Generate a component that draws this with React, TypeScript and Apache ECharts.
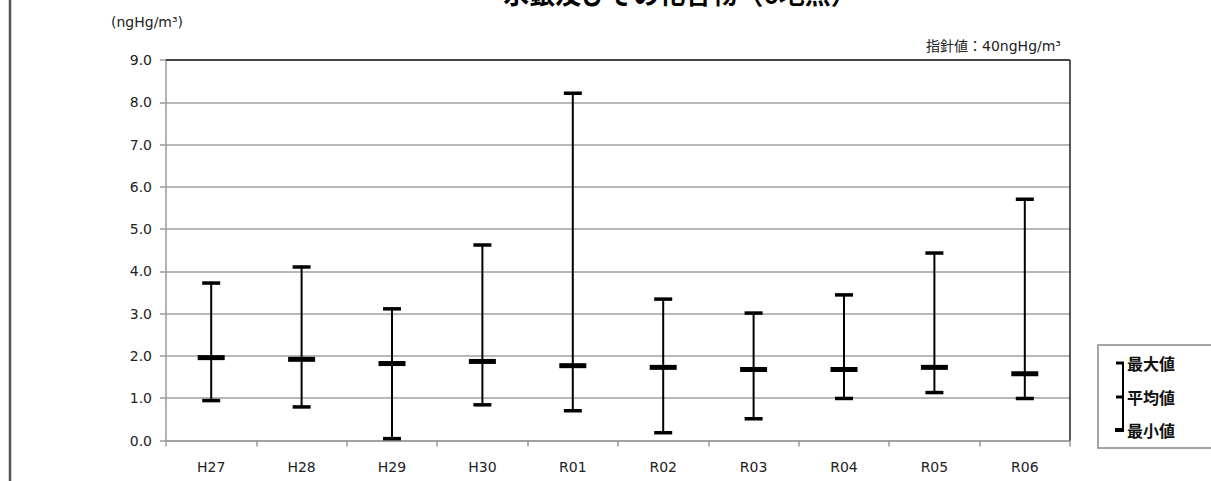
import React, { useEffect, useRef } from "react";
import * as echarts from "echarts";

const categories = ["H27", "H28", "H29", "H30", "R01", "R02", "R03", "R04", "R05", "R06"];
const maxValues = [3.73, 4.11, 3.12, 4.63, 8.22, 3.35, 3.02, 3.45, 4.44, 5.71];
const avgValues = [1.96, 1.92, 1.82, 1.87, 1.77, 1.73, 1.68, 1.68, 1.73, 1.58];
const minValues = [0.95, 0.8, 0.05, 0.85, 0.71, 0.19, 0.52, 1.0, 1.14, 1.0];
const titleText = "水銀及びその化合物（6地点）";
const unitText = "(ngHg/m³)";
const guideText = "指針値：40ngHg/m³";
const legendLabels = ["最大値", "平均値", "最小値"];

const FONT = "'DejaVu Sans', 'Noto Sans CJK JP', sans-serif";
const CJK = "'Noto Sans CJK JP', sans-serif";

export default function App() {
  const ref = useRef<HTMLDivElement>(null);
  useEffect(() => {
    if (!ref.current) return;
    const chart = echarts.init(ref.current, null, { renderer: "svg" });
    const data = categories.map((_, i) => [i, minValues[i], avgValues[i], maxValues[i]]);
    const gridLeft = 166;
    const gridRight = 141;
    const gridTop = 60;
    const gridBottom = 40.5;
    const W = 1211;
    const H = 481;
    chart.setOption({
      animation: false,
      backgroundColor: "#ffffff",
      textStyle: { fontFamily: FONT },
      grid: { left: gridLeft, right: gridRight, top: gridTop, bottom: gridBottom },
      xAxis: {
        type: "category",
        data: categories,
        boundaryGap: true,
        axisLine: { lineStyle: { color: "#9a9a9a", width: 1.5 } },
        axisTick: { show: true, length: 6, lineStyle: { color: "#9a9a9a", width: 1.5 } },
        axisLabel: { color: "#222", fontSize: 14, margin: 19, fontFamily: FONT },
        splitLine: { show: false },
      },
      yAxis: {
        type: "value",
        min: 0,
        max: 9,
        interval: 1,
        axisLine: { show: true, lineStyle: { color: "#9a9a9a", width: 1.5 } },
        axisTick: { show: true, length: 6, lineStyle: { color: "#9a9a9a", width: 1.5 } },
        axisLabel: {
          color: "#222",
          fontSize: 14,
          margin: 14,
          fontFamily: FONT,
          formatter: (v: number) => v.toFixed(1),
        },
        splitLine: { show: true, lineStyle: { color: "#a0a0a0", width: 1.5 } },
      },
      series: [
        {
          type: "custom",
          data,
          encode: { x: 0, y: [1, 2, 3] },
          renderItem: (params: any, api: any) => {
            const x = api.value(0);
            const pMin = api.coord([x, api.value(1)]);
            const pAvg = api.coord([x, api.value(2)]);
            const pMax = api.coord([x, api.value(3)]);
            const cx = pMin[0];
            const capW = 18;
            const avgW = 27;
            return {
              type: "group",
              children: [
                {
                  type: "line",
                  shape: { x1: cx, y1: pMax[1], x2: cx, y2: pMin[1] },
                  style: { stroke: "#000", lineWidth: 2 },
                },
                {
                  type: "rect",
                  shape: { x: cx - capW / 2, y: pMax[1] - 1.5, width: capW, height: 3.5 },
                  style: { fill: "#000" },
                },
                {
                  type: "rect",
                  shape: { x: cx - capW / 2, y: pMin[1] - 1.5, width: capW, height: 3.5 },
                  style: { fill: "#000" },
                },
                {
                  type: "rect",
                  shape: { x: cx - avgW / 2, y: pAvg[1] - 2.5, width: avgW, height: 5 },
                  style: { fill: "#000" },
                },
              ],
            };
          },
          z: 10,
        },
      ],
      graphic: [
        {
          type: "line",
          shape: { x1: 10, y1: 0, x2: 10, y2: H },
          style: { stroke: "#555", lineWidth: 2.5 },
        },
        {
          type: "line",
          shape: { x1: gridLeft, y1: gridTop, x2: W - gridRight, y2: gridTop },
          style: { stroke: "#222", lineWidth: 1.5 },
          z: 5,
        },
        {
          type: "line",
          shape: { x1: W - gridRight, y1: gridTop, x2: W - gridRight, y2: H - gridBottom },
          style: { stroke: "#222", lineWidth: 1.5 },
          z: 5,
        },
        {
          type: "text",
          x: 680,
          y: 5,
          style: {
            text: titleText,
            fontSize: 26,
            fontWeight: "bold",
            fontFamily: CJK,
            fill: "#000",
            align: "center",
            verticalAlign: "bottom",
          },
        },
        {
          type: "text",
          x: 111,
          y: 22,
          style: {
            text: unitText,
            fontSize: 14,
            fontFamily: FONT,
            fill: "#222",
            align: "left",
            verticalAlign: "middle",
          },
        },
        {
          type: "text",
          x: 1061,
          y: 46,
          style: {
            text: guideText,
            fontSize: 14,
            fontFamily: FONT,
            fill: "#222",
            align: "right",
            verticalAlign: "middle",
          },
        },
        {
          type: "rect",
          shape: { x: 1098, y: 345, width: 140, height: 103 },
          style: { fill: "#fff", stroke: "#888", lineWidth: 1.5 },
        },
        {
          type: "line",
          shape: { x1: 1123, y1: 363, x2: 1123, y2: 430 },
          style: { stroke: "#000", lineWidth: 2 },
        },
        {
          type: "rect",
          shape: { x: 1116, y: 361.5, width: 8, height: 3 },
          style: { fill: "#000" },
        },
        {
          type: "rect",
          shape: { x: 1116, y: 395.5, width: 8, height: 3 },
          style: { fill: "#000" },
        },
        {
          type: "rect",
          shape: { x: 1115, y: 428, width: 9, height: 4 },
          style: { fill: "#000" },
        },
        ...legendLabels.map((t, i) => ({
          type: "text",
          x: 1127,
          y: [363, 397, 430][i],
          style: {
            text: t,
            fontSize: 16,
            fontWeight: "bold",
            fontFamily: CJK,
            fill: "#111",
            align: "left",
            verticalAlign: "middle",
          },
        })),
      ],
    });
    return () => chart.dispose();
  }, []);
  return (
    <div
      ref={ref}
      style={{ position: "absolute", left: 0, top: 0, width: 1211, height: 481 }}
    />
  );
}
